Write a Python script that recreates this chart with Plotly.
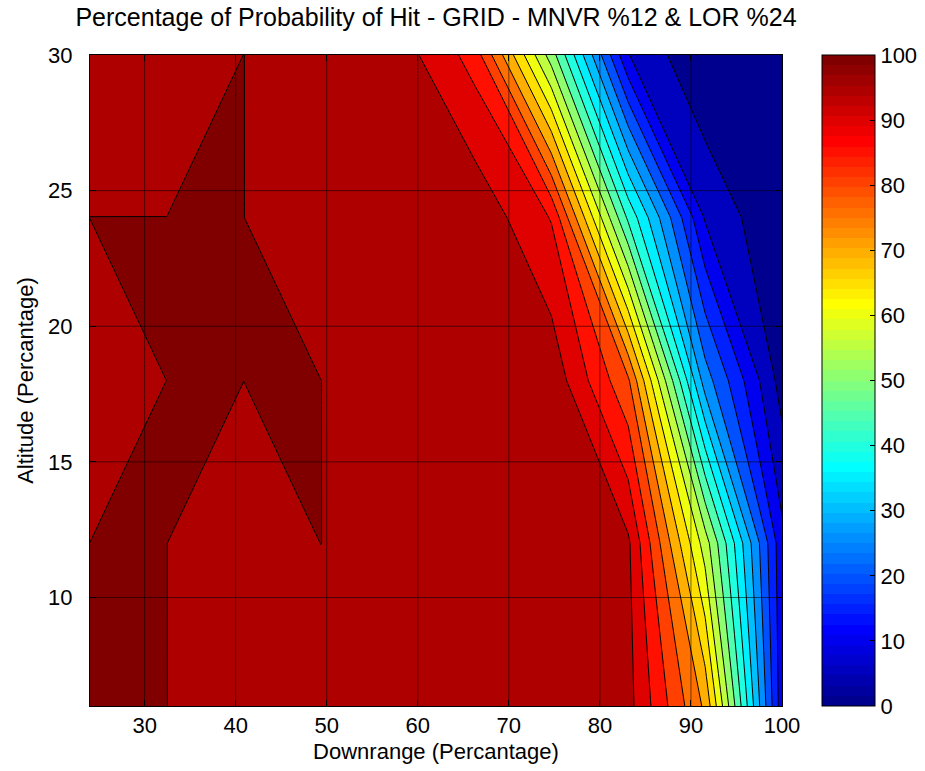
import numpy as np
import plotly.graph_objects as go

# Grid of downrange / altitude sample points (percent of envelope)
DOWNRANGE = [24.0, 32.44, 40.89, 49.33, 57.78, 66.22, 74.67, 83.11, 91.56, 100.0]
ALTITUDE = [6, 12, 18, 24, 30]

# Probability of hit (%) per altitude row, ordered by downrange
P_HIT_ALT_06 = [100.0, 100.0, 98.6, 98.7, 99.0, 99.1, 98.8, 96.7, 74.0, 12.0]
P_HIT_ALT_12 = [100.0, 100.0, 98.2, 100.0, 99.2, 99.0, 98.9, 95.9, 57.5, 11.5]
P_HIT_ALT_18 = [98.4, 100.0, 100.0, 100.0, 99.1, 99.2, 98.5, 80.8, 27.4, 2.8]
P_HIT_ALT_24 = [100.0, 100.0, 100.0, 98.8, 99.0, 98.9, 89.7, 44.0, 9.5, 0.0]
P_HIT_ALT_30 = [98.5, 98.6, 100.0, 98.7, 97.7, 88.0, 52.5, 10.2, 0.0, 0.0]
P_HIT = [P_HIT_ALT_06, P_HIT_ALT_12, P_HIT_ALT_18, P_HIT_ALT_24, P_HIT_ALT_30]

LEVEL_START, LEVEL_END, LEVEL_STEP = 5, 95, 5
PEAK_LEVEL = 99.99
X_TICKS = [30, 40, 50, 60, 70, 80, 90, 100]
Y_TICKS = [10, 15, 20, 25, 30]
CBAR_TICKS = [0, 10, 20, 30, 40, 50, 60, 70, 80, 90, 100]
CBAR_RANGE = [0, 100]

TITLE = "Percentage of Probability of Hit - GRID - MNVR %12 & LOR %24"
FONT = "Liberation Sans, Arial, Helvetica, sans-serif"


def jet(n=64):
    """MATLAB-style jet colormap with n rows, values in [0, 1]."""
    m = int(np.ceil(n / 4))
    u = np.concatenate([np.arange(1, m + 1) / m, np.ones(m - 1), np.arange(m, 0, -1) / m])
    g = int(np.ceil(m / 2)) - (1 if n % 4 == 1 else 0) + np.arange(1, len(u) + 1)
    r = g + m
    b = g - m
    cmap = np.zeros((n, 3))
    mr, mg, mb = r <= n, g <= n, b >= 1
    cmap[r[mr] - 1, 0] = u[mr]
    cmap[g[mg] - 1, 1] = u[mg]
    cmap[b[mb] - 1, 2] = u[mb]
    return cmap


def rgb(c):
    return "rgb(%d,%d,%d)" % tuple(int(round(v * 255)) for v in c)


JET = jet(64)

# One colour per filled band: band [v, v+step) takes the colormap row of v
band_lows = np.arange(0, LEVEL_END + LEVEL_STEP, LEVEL_STEP)
nb = len(band_lows)
band_scale = []
for k, v in enumerate(band_lows):
    idx = min(int(v / (CBAR_RANGE[1] - CBAR_RANGE[0]) * 64), 63)
    band_scale.append([k / (nb - 1), rgb(JET[idx])])

# Stepped 64-colour scale for the colour bar
bar_scale = []
for i in range(64):
    bar_scale.append([i / 64, rgb(JET[i])])
    bar_scale.append([(i + 1) / 64, rgb(JET[i])])

fig = go.Figure()

fig.add_trace(go.Contour(
    x=DOWNRANGE, y=ALTITUDE, z=P_HIT,
    autocontour=False,
    contours=dict(start=LEVEL_START, end=LEVEL_END, size=LEVEL_STEP, coloring="fill"),
    colorscale=band_scale,
    line=dict(color="black", width=1, smoothing=0),
    showscale=False,
    hoverinfo="skip",
))

# Plateau where the hit probability reaches its maximum
fig.add_trace(go.Contour(
    x=DOWNRANGE, y=ALTITUDE, z=P_HIT,
    contours=dict(type="constraint", operation="<", value=PEAK_LEVEL),
    fillcolor=rgb(JET[63]),
    line=dict(color="black", width=1, smoothing=0),
    showscale=False,
    hoverinfo="skip",
))

# Colour bar carrier
fig.add_trace(go.Scatter(
    x=[DOWNRANGE[0]], y=[ALTITUDE[0]], mode="markers",
    marker=dict(
        size=1, opacity=0, color=[CBAR_RANGE[0]],
        cmin=CBAR_RANGE[0], cmax=CBAR_RANGE[1], colorscale=bar_scale,
        showscale=True,
        colorbar=dict(
            x=1.058, xanchor="left", xpad=0, ypad=0,
            y=0.5, yanchor="middle", len=1, lenmode="fraction",
            thickness=53, thicknessmode="pixels",
            outlinewidth=1, outlinecolor="black",
            tickvals=CBAR_TICKS, ticks="inside", ticklen=5, tickcolor="black",
            tickfont=dict(family=FONT, size=22, color="black"),
        ),
    ),
    hoverinfo="skip", showlegend=False,
))

grid_style = dict(color="rgba(0,0,0,0.55)", width=1)
shapes = []
for xv in X_TICKS:
    if DOWNRANGE[0] < xv < DOWNRANGE[-1]:
        shapes.append(dict(type="line", xref="x", yref="paper", x0=xv, x1=xv, y0=0, y1=1,
                           line=grid_style, layer="above"))
for yv in Y_TICKS:
    if ALTITUDE[0] < yv < ALTITUDE[-1]:
        shapes.append(dict(type="line", xref="paper", yref="y", x0=0, x1=1, y0=yv, y1=yv,
                           line=grid_style, layer="above"))

axis_common = dict(
    ticks="inside", ticklen=6, tickcolor="black", mirror="allticks",
    showline=True, linecolor="black", linewidth=1,
    showgrid=False, zeroline=False,
    tickfont=dict(family=FONT, size=22, color="black"),
)

fig.update_layout(
    width=925, height=771,
    margin=dict(l=90, r=143, t=55, b=65, autoexpand=False),
    paper_bgcolor="white", plot_bgcolor="white",
    font=dict(family=FONT, color="black"),
    title=dict(text=TITLE, xref="paper", x=0.5, xanchor="center",
               yref="container", y=1 - 17 / 771, yanchor="middle",
               font=dict(family=FONT, size=25, color="black")),
    xaxis=dict(range=[DOWNRANGE[0], DOWNRANGE[-1]], tickvals=X_TICKS,
               title=dict(text="Downrange (Percantage)", font=dict(family=FONT, size=22), standoff=6),
               **axis_common),
    yaxis=dict(range=[ALTITUDE[0], ALTITUDE[-1]], tickvals=Y_TICKS, ticklabelstandoff=12,
               title=dict(text="Altitude (Percantage)", font=dict(family=FONT, size=22), standoff=8),
               **axis_common),
    shapes=shapes,
    showlegend=False,
)

fig.write_html("out.html")
